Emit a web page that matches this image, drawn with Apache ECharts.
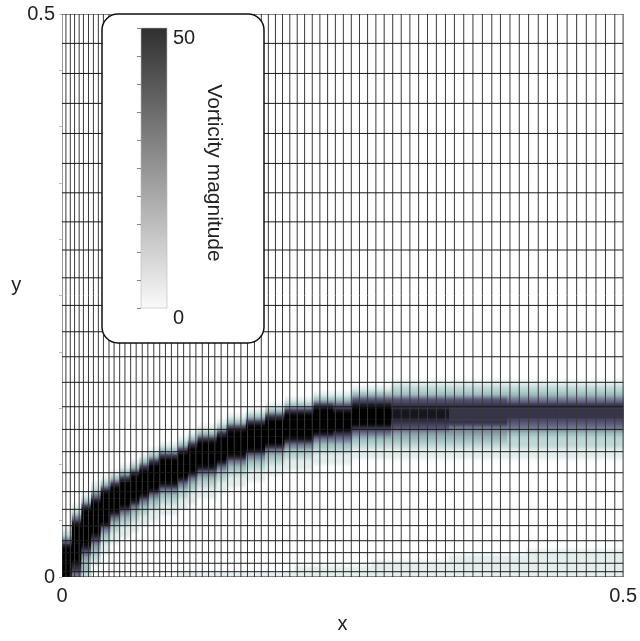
<!DOCTYPE html>
<html>
<head>
<meta charset="utf-8">
<script src="https://cdn.jsdelivr.net/npm/echarts@6.0.0/dist/echarts.min.js"></script>
<style>
  html, body { margin: 0; padding: 0; background: #fff; }
  #chart { width: 640px; height: 641px; }
</style>
</head>
<body>
<div id="chart"></div>
<script>
// mesh lines (data units)
const meshX = [0, 0.0035, 0.0074, 0.0112, 0.0153, 0.0191, 0.0236, 0.0280, 0.0324, 0.0369,
  0.0419, 0.0464, 0.0514, 0.0561, 0.0612, 0.0661, 0.0715, 0.0765, 0.0818, 0.0871,
  0.0922, 0.0975, 0.1031, 0.1084, 0.1140, 0.1193, 0.1250, 0.1306, 0.1362, 0.1418,
  0.1476, 0.1535, 0.1594, 0.1653, 0.1715, 0.1776, 0.1839, 0.1902, 0.1965, 0.2030,
  0.2096, 0.2162, 0.2230, 0.2298, 0.2367, 0.2436, 0.2507, 0.2578, 0.2651, 0.2723,
  0.2797, 0.2871, 0.2947, 0.3023, 0.3100, 0.3178, 0.3257, 0.3336, 0.3417, 0.3497,
  0.3580, 0.3662, 0.3746, 0.3830, 0.3907, 0.3992, 0.4075, 0.4158, 0.4244, 0.4326,
  0.4415, 0.4501, 0.4586, 0.4672, 0.4758, 0.4843, 0.4926, 0.5];
const meshY = [0, 0.0047, 0.0122, 0.0216, 0.0322, 0.0456, 0.0601, 0.0758, 0.0926, 0.1113,
  0.1311, 0.1512, 0.1729, 0.1956, 0.2178, 0.2412, 0.2657, 0.2904, 0.3154, 0.3412,
  0.3673, 0.3939, 0.4206, 0.4472, 0.4739, 0.5];

// vorticity field: 58 equal columns in x, 40 rows of 0.005 in y
const fieldCols = 58;
const fieldRows = 40;
const fieldRowH = 0.005;
// per column: first row of the band, then the level digits going up
const bandCols = [
  [0, '999998521'],
  [0, '5789999998521'],
  [0, '233468999999731'],
  [2, '123468999998521'],
  [4, '11235899999731'],
  [6, '1123589999731'],
  [7, '1123589999731'],
  [8, '1123589999731'],
  [9, '1123589999731'],
  [10, '1123589999731'],
  [11, '1123589999731'],
  [11, '1123589999731'],
  [12, '1123589999731'],
  [13, '1123589999731'],
  [14, '1123589999731'],
  [14, '1123589999731'],
  [15, '1123589999731'],
  [16, '1123589999731'],
  [16, '1123589999731'],
  [17, '1123589999731'],
  [17, '1123589999731'],
  [18, '1123589999731'],
  [18, '1123589999731'],
  [19, '1123589999731'],
  [19, '1123589999731'],
  [19, '1123589999731'],
  [20, '1123589999731'],
  [20, '1123589999731'],
  [20, '1123579998631'],
  [20, '1123579998631'],
  [21, '1123579998631'],
  [21, '1123579998631'],
  [21, '1123579998631'],
  [21, '1123579998631'],
  [21, '11234678876321'],
  [21, '11234678876321'],
  [21, '11234678876321'],
  [21, '11234678876321'],
  [21, '11234678876321'],
  [21, '11234678876321'],
  [21, '11234577776321'],
  [21, '11234577776321'],
  [21, '11234577776321'],
  [21, '11234577776321'],
  [21, '11234577776321'],
  [21, '11234577776321'],
  [21, '11223567775321'],
  [21, '11223567775321'],
  [21, '11223567775321'],
  [21, '11223567775321'],
  [21, '11223567775321'],
  [21, '11223567775321'],
  [21, '11223567775321'],
  [21, '11223567775321'],
  [21, '11223567775321'],
  [21, '11223567775321'],
  [21, '11223567775321'],
  [21, '11223567775321']
];
// faint vorticity rows next to the wall, per column
const wallRows = [0, 0, 0, 0, 0, 0, 0, 0, 0, 0, 0, 0, 1, 1, 1, 1, 1, 1, 1, 1,
  1, 1, 1, 1, 2, 2, 2, 2, 2, 2, 2, 2, 3, 3, 3, 3, 3, 3, 3, 3,
  4, 4, 4, 4, 4, 4, 4, 4, 5, 5, 5, 5, 5, 5, 5, 5, 5, 5];
const wallValue = 4;
// level digit -> vorticity magnitude
const levelValues = [0, 4, 9, 14, 19, 25, 31, 38, 45, 55];

const xLabels = [0, 0.5];
const yLabels = [0, 0.5];
const barRange = [0, 50];
const barLabels = [0, 50];

const boneColors = ['#ffffff', '#d3e3e3', '#a6c6c6', '#8b9faa', '#6f788e',
  '#535171', '#37364b', '#1c1b26', '#000000'];

// column values
const vals = bandCols.map(function (col, i) {
  const v = new Array(fieldRows).fill(0);
  for (let k = 0; k < wallRows[i]; k++) v[k] = wallValue;
  for (let k = 0; k < col[1].length; k++) {
    const lv = +col[1][k];
    if (lv > 0) v[col[0] + k] = levelValues[lv];
  }
  return v;
});

// cells with the values at their lower edge, middle and upper edge (for smooth shading)
const cells = [];
vals.forEach(function (v, i) {
  const x0 = i * 0.5 / fieldCols;
  const x1 = (i + 1) * 0.5 / fieldCols;
  for (let k = 0; k < fieldRows; k++) {
    const below = k > 0 ? v[k - 1] : v[k];
    const above = k + 1 < fieldRows ? v[k + 1] : 0;
    const vb = (below + v[k]) / 2;
    const vt = (above + v[k]) / 2;
    if (vb === 0 && v[k] === 0 && vt === 0) continue;
    cells.push([x0, x1, k * fieldRowH, (k + 1) * fieldRowH, vb, v[k], vt]);
  }
});

const meshLines = meshX.map(v => [0, v]).concat(meshY.map(v => [1, v]));

function vortColor(v) {
  return echarts.color.lerp(Math.min(v, barRange[1]) / barRange[1], boneColors);
}

function renderCell(params, api) {
  const p0 = api.coord([api.value(0), api.value(3)]);
  const p1 = api.coord([api.value(1), api.value(2)]);
  return {
    type: 'rect',
    shape: { x: p0[0], y: p0[1], width: p1[0] - p0[0] + 0.7, height: p1[1] - p0[1] + 0.5 },
    style: {
      fill: new echarts.graphic.LinearGradient(0, 0, 0, 1, [
        { offset: 0, color: vortColor(api.value(6)) },
        { offset: 0.5, color: vortColor(api.value(5)) },
        { offset: 1, color: vortColor(api.value(4)) }
      ])
    }
  };
}

function renderMesh(params, api) {
  const dir = api.value(0);
  const v = api.value(1);
  const a = dir === 0 ? api.coord([v, 0]) : api.coord([0, v]);
  const b = dir === 0 ? api.coord([v, 0.5]) : api.coord([0.5, v]);
  return {
    type: 'line',
    shape: { x1: a[0], y1: a[1], x2: b[0], y2: b[1] },
    style: { stroke: dir === 0 ? '#3a3a3a' : '#1a1a1a', lineWidth: 1 }
  };
}

function renderBar(params, api) {
  const a = api.coord([0, api.value(1)]);
  const b = api.coord([1, api.value(0)]);
  return {
    type: 'rect',
    shape: { x: a[0], y: a[1], width: b[0] - a[0], height: b[1] - a[1] },
    style: {
      fill: new echarts.graphic.LinearGradient(0, 0, 0, 1, [
        { offset: 0, color: '#2f2f2f' },
        { offset: 1, color: '#fafafa' }
      ]),
      stroke: '#bbb',
      lineWidth: 0.6
    }
  };
}

function onlyLabels(list) {
  return function (v) {
    return list.some(t => Math.abs(t - v) < 1e-9) ? String(v) : '';
  };
}

const chart = echarts.init(document.getElementById('chart'));
chart.setOption({
  animation: false,
  textStyle: { fontFamily: 'Liberation Sans, Arial, sans-serif', color: '#222' },
  grid: [
    { left: 62, top: 14, width: 564, height: 563 },
    { left: 141, top: 28, width: 26, height: 280 }
  ],
  xAxis: [
    {
      type: 'value', min: 0, max: 0.5, interval: 0.5,
      name: 'x', nameLocation: 'middle', nameGap: 37,
      nameTextStyle: { fontSize: 20, color: '#222' },
      axisLine: { show: false }, axisTick: { show: false }, splitLine: { show: false },
      axisLabel: { fontSize: 20, color: '#222', margin: 9, formatter: onlyLabels(xLabels) }
    },
    { gridIndex: 1, type: 'value', min: 0, max: 1, show: false }
  ],
  yAxis: [
    {
      type: 'value', min: 0, max: 0.5, interval: 0.05,
      name: 'y', nameLocation: 'middle', nameRotate: 0, nameGap: 40,
      nameTextStyle: { fontSize: 20, color: '#222', verticalAlign: 'bottom' },
      axisLine: { show: false }, splitLine: { show: false },
      axisTick: { show: true, length: 3, lineStyle: { color: '#bbb' } },
      axisLabel: { fontSize: 20, color: '#222', margin: 7, padding: [0, 0, 6, 0], formatter: onlyLabels(yLabels) }
    },
    {
      gridIndex: 1, type: 'value', min: 0, max: 50, interval: 5, position: 'right', z: 30,
      name: 'Vorticity magnitude', nameLocation: 'middle', nameRotate: -90, nameGap: 36,
      nameTextStyle: { fontSize: 21, color: '#222', padding: [0, 0, 0, 10] },
      axisLine: { show: false }, splitLine: { show: false },
      axisTick: { show: true, inside: true, length: 4, lineStyle: { color: '#888' } },
      axisLabel: { fontSize: 20, color: '#222', margin: 6, verticalAlign: 'top', formatter: onlyLabels(barLabels) }
    }
  ],
  graphic: {
    elements: [{
      type: 'rect', z: 10,
      shape: { x: 102, y: 14, width: 162, height: 329, r: 16 },
      style: { fill: '#fff', stroke: '#111', lineWidth: 1.5 }
    }]
  },
  series: [
    {
      type: 'custom', name: 'vorticity', z: 1, clip: true,
      renderItem: renderCell, data: cells,
      encode: { x: [0, 1], y: [2, 3] }
    },
    {
      type: 'custom', name: 'mesh', z: 2, clip: true,
      renderItem: renderMesh, data: meshLines
    },
    {
      type: 'custom', name: 'colorbar', z: 20, xAxisIndex: 1, yAxisIndex: 1,
      renderItem: renderBar, data: [barRange]
    }
  ]
});
</script>
</body>
</html>
